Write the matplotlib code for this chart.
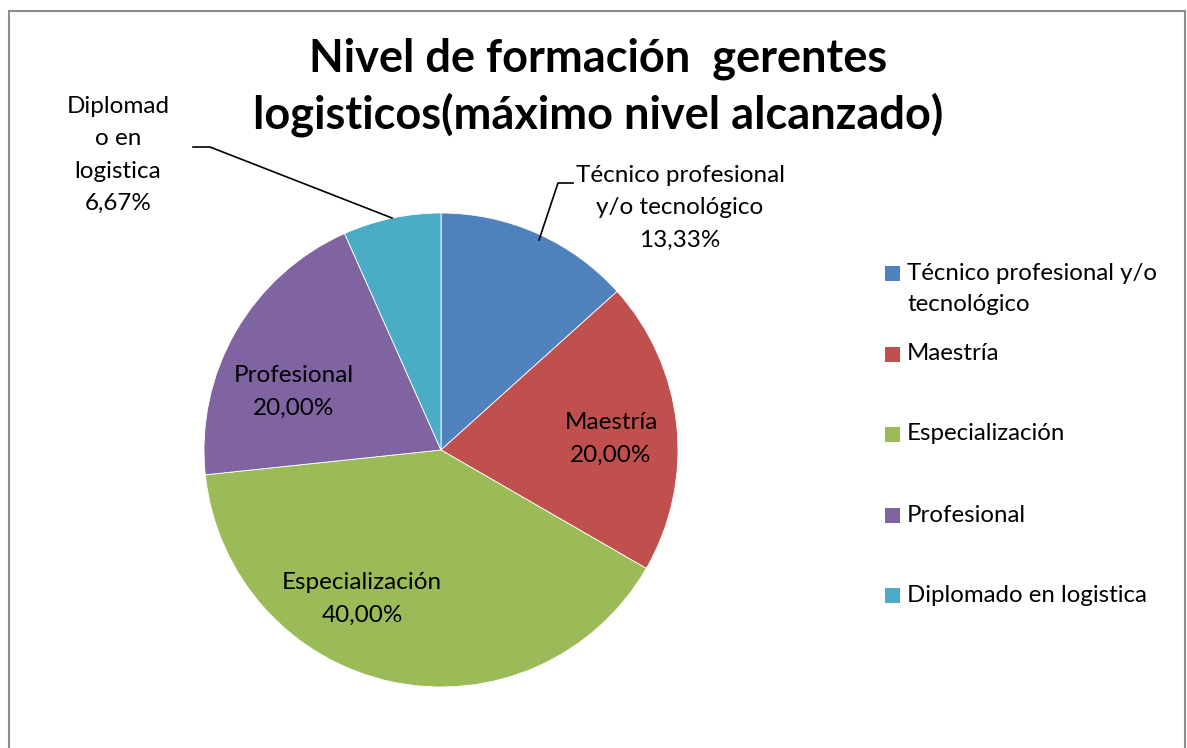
import matplotlib.pyplot as plt
from matplotlib.patches import Rectangle

plt.rcParams['font.family'] = ['Lato', 'DejaVu Sans']

categorias = ["Técnico profesional y/o\ntecnológico", "Maestría", "Especialización",
              "Profesional", "Diplomado en logistica"]
porcentajes = [13.33, 20.00, 40.00, 20.00, 6.67]
colores = ["#4F81BD", "#C0504D", "#9BBB59", "#8064A2", "#4BACC6"]
etiquetas = ["Técnico profesional\ny/o tecnológico", "Maestría", "Especialización",
             "Profesional", "Diplomad\no en\nlogistica"]

W, H = 1187, 748
fig = plt.figure(figsize=(W / 100, H / 100), dpi=100)

# chart frame
fig.patches.append(Rectangle((9 / W, -0.05), (1185 - 9) / W, (H - 11) / H + 0.05,
                             transform=fig.transFigure, fill=False,
                             edgecolor="#8c8c8c", linewidth=1.5))

# pie axes, centre (441,450) px, radius 237 px
cx, cy, r = 441, 450, 237
ax = fig.add_axes([(cx - r) / W, (H - cy - r) / H, 2 * r / W, 2 * r / H])
wedges, _ = ax.pie(porcentajes, colors=colores, startangle=90, counterclock=False,
                   radius=1, wedgeprops=dict(linewidth=0.6, edgecolor="white"))
ax.set_xlim(-1, 1)
ax.set_ylim(-1, 1)
ax.axis("off")


def p(px, py):
    return ((px - cx) / r, (cy - py) / r)


def pct(v):
    return f"{v:.2f}".replace(".", ",") + "%"


fs = 17.5
# label positions (px)
pos = [(680, 208), (611, 439), (362, 599), (294, 392), (118, 155)]
for lab, v, (px, py) in zip(etiquetas, porcentajes, pos):
    ax.text(*p(px, py), lab + "\n" + pct(v), ha="center", va="center",
            fontsize=fs, linespacing=1.66, color="black", clip_on=False)

# leader lines
ax.plot(*zip(p(573, 183), p(558, 183), p(539, 240)), color="black", lw=1.2, clip_on=False)
ax.plot(*zip(p(193, 147), p(210, 147), p(392, 218)), color="black", lw=1.2, clip_on=False)

fig.text(598 / W, 1 - 87 / H, "Nivel de formación  gerentes\nlogisticos(máximo nivel alcanzado)",
         ha="center", va="center", fontsize=32.5, fontweight="bold", linespacing=1.35)

# legend (drawn by hand to follow the original spacing)
leg_y = [289, 354, 434, 515, 595]
for c, lab, y in zip(colores, categorias, leg_y):
    nl = lab.count("\n")
    ys = y - nl * 15.5
    fig.patches.append(Rectangle((885 / W, 1 - (ys + 7.5) / H), 15 / W, 15 / H,
                                 transform=fig.transFigure, facecolor=c, edgecolor="none"))
    fig.text(907 / W, 1 - y / H, lab, ha="left", va="center", fontsize=17.3,
             linespacing=1.6)

fig.savefig("out.png", dpi=100)
